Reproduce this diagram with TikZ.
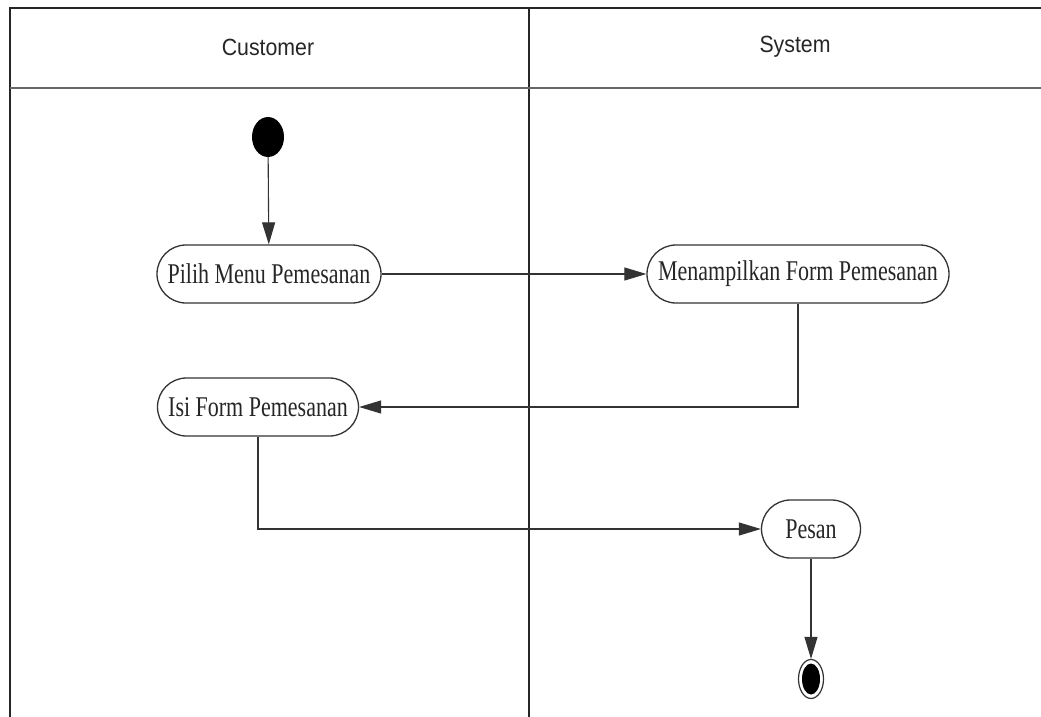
\documentclass[tikz,border=0pt]{standalone}
\usepackage{fontspec}
\usepackage{graphicx}
\setmainfont{Liberation Serif}
\newfontfamily\lanefont{Liberation Sans}
\usetikzlibrary{arrows.meta,shapes.geometric}
% tall, narrow lettering used in the diagram labels
\newcommand{\actlabel}[1]{\scalebox{1}[1.3]{#1}}
\newcommand{\lanelabel}[1]{\scalebox{1}[1.1]{#1}}
\begin{document}
\begin{tikzpicture}[x=1pt,y=-1pt,
  lane/.style={draw=black!85, line width=1.1pt},
  lanehead/.style={font=\lanefont\fontsize{21.3}{24}\selectfont, text=black!85},
  action/.style={draw=black!80, line width=1.3pt, rounded corners=29pt,
    minimum height=58pt, inner sep=0pt, font=\fontsize{22}{26}\selectfont, text=black!85},
  flow/.style={draw=black!80, line width=1.1pt, -{Triangle[length=22pt,width=13pt]}},
  startstate/.style={ellipse, fill=black, minimum width=32pt, minimum height=40pt, inner sep=0pt},
]
\useasboundingbox (0,0) rectangle (1041,717);
\fill[white] (0,0) rectangle (1041,717);

% swimlanes
\draw[lane] (10,717) -- (10,8) -- (1041,8);
\draw[lane] (529,8) -- (529,717);
\draw[draw=black!60, line width=2.6pt] (10,88) -- (1041,88);
\node[lanehead] (hcust) at (268,47) {\lanelabel{Customer}};
\node[lanehead] (hsys) at (795,47) {\lanelabel{System}};

% states and actions
\node[startstate] (start) at (268,137) {};
\node[action, minimum width=224pt] (pilih) at (269,274) {\actlabel{Pilih Menu Pemesanan}};
\node[action, minimum width=302pt] (tampil) at (798,274) {\actlabel{Menampilkan Form Pemesanan}};
\node[action, minimum width=201pt] (isi) at (258,407) {\actlabel{Isi Form Pemesanan}};
\node[action, minimum width=99pt] (pesan) at (811,529) {\actlabel{Pesan}};
\node[ellipse, draw=black!80, line width=1.2pt, minimum width=25pt, minimum height=39pt, inner sep=0pt] (final) at (811,679) {};
\node[ellipse, fill=black, minimum width=18pt, minimum height=31pt, inner sep=0pt] (finaldot) at (811,679) {};

% transitions
\draw[flow] (start) -- (pilih);
\draw[flow] (pilih) -- (tampil);
\draw[flow] (tampil.south) |- (isi.east);
\draw[flow] (isi.south) |- (pesan.west);
\draw[flow] (pesan) -- (final);
\end{tikzpicture}
\end{document}
